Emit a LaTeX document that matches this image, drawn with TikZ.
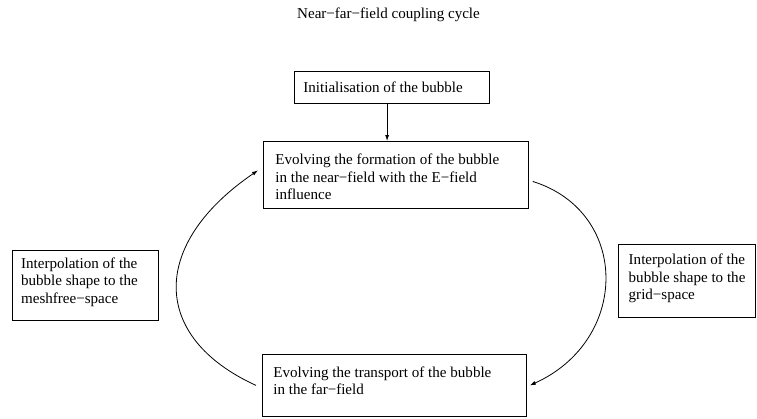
\documentclass[tikz,border=0pt]{standalone}
\usepackage{fontspec}
\setmainfont{Liberation Serif}
\usetikzlibrary{arrows.meta}

% box text: width, height, left pad, first baseline, text
\newcommand{\stagetext}[5]{\parbox[t][#2][t]{#1}{\raggedright\leftskip=#3\rule{0pt}{#4}#5}}

\tikzset{
	stage/.style={draw, line width=0.6pt, anchor=north west, inner sep=0pt},
	link/.style={line width=0.6pt, -{Latex[length=4.5pt,width=3pt]}}}

\begin{document}
\begin{tikzpicture}[x=0.75pt,y=0.75pt,yscale=-1,xscale=1,font=\fontsize{11.3}{13}\selectfont]
	\useasboundingbox (0,0) rectangle (757,418);
	
	% Title
	\node [anchor=base] (title) at (388.5,18.3) {Near−far−field coupling cycle};
	
	% Stages
	\node [stage] (init) at (294,70.7) {\stagetext{146.25pt}{24pt}{6.75pt}{15.75pt}{Initialisation of the bubble}};
	\node [stage] (near) at (263,141) {\stagetext{198.75pt}{50.25pt}{9pt}{17.5pt}{Evolving the formation of the bubble\\ in the near−field with the E−field\\ influence}};
	\node [stage] (far) at (262,354) {\stagetext{198pt}{46.5pt}{8.25pt}{17.25pt}{Evolving the transport of the bubble\\ in the far−field}};
	\node [stage] (meshfree) at (11.7,250) {\stagetext{109.5pt}{52.5pt}{6.75pt}{13.5pt}{Interpolation of the\\ bubble shape to the\\ meshfree−space}};
	\node [stage] (grid) at (618.3,244.3) {\stagetext{102.75pt}{54.3pt}{7.5pt}{15pt}{Interpolation of the\\ bubble shape to the\\ grid−space}};
	
	% Connectors
	\coordinate (drop) at ([xshift=-3.6pt]init.south);
	\draw [link] (drop) -- (drop |- near.north);
	\draw [link] ([xshift=-4.5pt]far.west) .. controls (150,337) and (150,244) .. ([xshift=-3.75pt,yshift=-3.4pt]near.west);
	\draw [link] ([xshift=3pt,yshift=4.9pt]near.east) .. controls (630,212) and (630,340) .. ([xshift=2.25pt]far.east);
	
\end{tikzpicture}
\end{document}
